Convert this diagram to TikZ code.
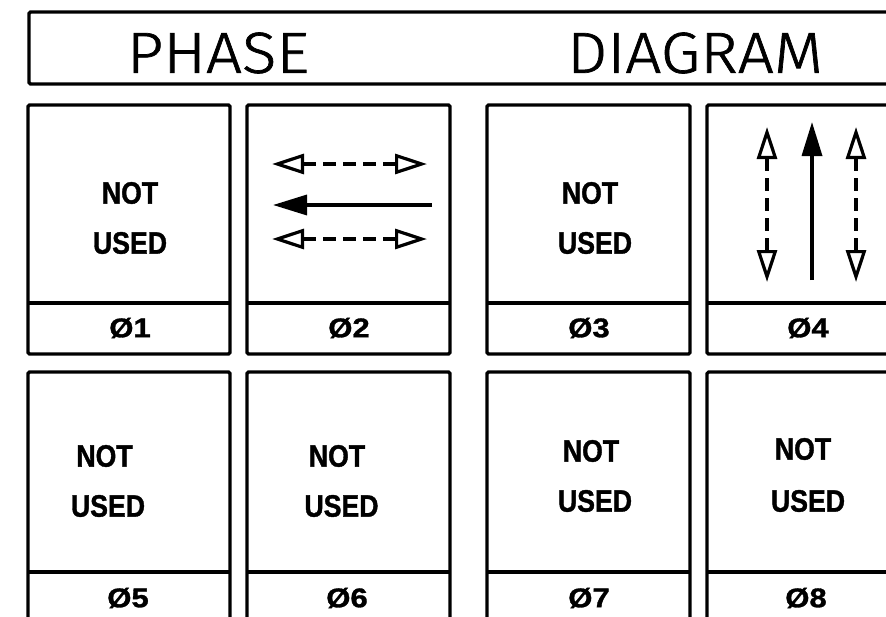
\documentclass[tikz,border=0pt]{standalone}
\usepackage{fontspec}
\setmainfont{Liberation Sans}
\newfontfamily\titlefont[FakeStretch=1.1, FakeBold=1.2]{Fira Sans Light}
\newfontfamily\cellfont[FakeStretch=0.86, FakeBold=1.2]{Liberation Sans Bold}
\newfontfamily\labelfont[FakeStretch=1.15, FakeBold=1.2]{Liberation Sans Bold}
\usetikzlibrary{arrows.meta}
\begin{document}
\begin{tikzpicture}[x=1pt,y=-1pt,
  frame/.style={line width=3.2pt, rounded corners=1.5pt},
  divider/.style={line width=3.2pt},
  title/.style={font=\titlefont\fontsize{58}{58}\selectfont, inner sep=0pt},
  word/.style={font=\cellfont\fontsize{31}{31}\selectfont, inner sep=0pt},
  tag/.style={font=\labelfont\fontsize{27}{27}\selectfont, inner sep=0pt},
  dasharrow/.style={line width=3.4pt, dash pattern=on 13pt off 7pt,
    {Triangle[open, length=32pt, width=20pt, line width=3.2pt]}-{Triangle[open, length=32pt, width=20pt, line width=3.2pt]}},
  solidarrow/.style={line width=3.4pt, -{Triangle[length=34pt, width=20pt]}}
]
\useasboundingbox (0,0) rectangle (886,616);
\fill[white] (0,0) rectangle (886,616);
\clip (0,0) rectangle (886,616);

% title box
\draw[frame] (29,12) rectangle (900,84);
\node[title] (t1) at (218,53) {PHASE};
\node[title] (t2) at (695,53) {DIAGRAM};

% boxes
\foreach \xa/\xb in {28/230, 247/450, 487/690, 707/909}{
  \draw[frame] (\xa,105) rectangle (\xb,354);
  \draw[divider] (\xa,303) -- (\xb,303);
  \draw[frame] (\xa,372) rectangle (\xb,640);
  \draw[divider] (\xa,572) -- (\xb,572);
}

% texts row 1
\node[word] (n1) at (130,193) {NOT};
\node[word] (u1) at (130,243) {USED};
\node[word] (n3) at (590,193) {NOT};
\node[word] (u3) at (595,243) {USED};
\node[tag] (l1) at (130,328) {Ø1};
\node[tag] (l2) at (349,328) {Ø2};
\node[tag] (l3) at (589,328) {Ø3};
\node[tag] (l4) at (808,328) {Ø4};

% texts row 2
\node[word] (n5) at (104.5,456) {NOT};
\node[word] (u5) at (108,506) {USED};
\node[word] (n6) at (337,456) {NOT};
\node[word] (u6) at (341.5,506) {USED};
\node[word] (n7) at (591,451) {NOT};
\node[word] (u7) at (595,501) {USED};
\node[word] (n8) at (803,449) {NOT};
\node[word] (u8) at (808,501) {USED};
\node[tag] (l5) at (128,598) {Ø5};
\node[tag] (l6) at (347,598) {Ø6};
\node[tag] (l7) at (589,598) {Ø7};
\node[tag] (l8) at (806,598) {Ø8};

% box 2 arrows
\coordinate (a1) at (272,164); \coordinate (b1) at (427,164);
\coordinate (a2) at (432,205); \coordinate (b2) at (273,205);
\coordinate (a3) at (272,239); \coordinate (b3) at (427,239);
\draw[dasharrow] (a1) -- (b1);
\draw[solidarrow] (a2) -- (b2);
\draw[dasharrow] (a3) -- (b3);

% box 4 arrows
\coordinate (c1) at (767,127); \coordinate (d1) at (767,282);
\coordinate (c2) at (812,280); \coordinate (d2) at (812,122);
\coordinate (c3) at (856,127); \coordinate (d3) at (856,282);
\draw[dasharrow] (c1) -- (d1);
\draw[solidarrow] (c2) -- (d2);
\draw[dasharrow] (c3) -- (d3);
\end{tikzpicture}
\end{document}
